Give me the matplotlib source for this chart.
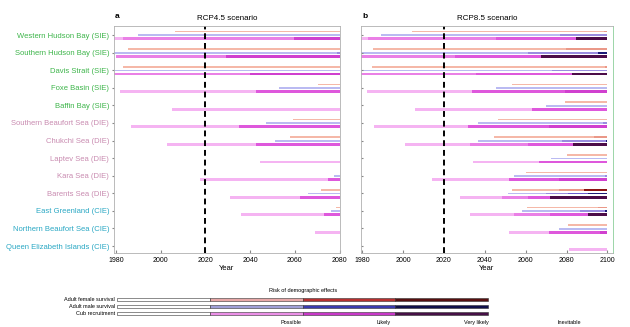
import matplotlib
matplotlib.use('Agg')
from matplotlib import pyplot as plt

plt.rcParams['font.family'] = ['Liberation Sans', 'DejaVu Sans']

regions = ['Western Hudson Bay (SIE)', 'Southern Hudson Bay (SIE)', 'Davis Strait (SIE)',
           'Foxe Basin (SIE)', 'Baffin Bay (SIE)', 'Southern Beaufort Sea (DIE)',
           'Chukchi Sea (DIE)', 'Laptev Sea (DIE)', 'Kara Sea (DIE)', 'Barents Sea (DIE)',
           'East Greenland (CIE)', 'Northern Beaufort Sea (CIE)', 'Queen Elizabeth Islands (CIE)']
eco_colors = {'SIE': '#3db54a', 'DIE': '#c98bb0', 'CIE': '#2aa8c4'}

# each bar: list of (year the level starts, level 0..4); bar runs to the end of the scenario
rcp45_female = [[(2006.3, 0)], [(1985.5, 0)], [(1983.3, 0)], [(2070.3, 0)], [],
                [(2059.1, 0)], [(2057.9, 0)], [], [], [(2071.9, 0)], [(2078.5, 0)], [], []]
rcp45_male = [[(1989.7, 0)], [(1979.1, 0), (2079, 1)], [(1979.1, 0)], [(2052.9, 0)], [],
              [(2047.2, 0)], [(2050.9, 0)], [], [(2077.7, 0)], [(2065.8, 0)], [(2076.2, 0)], [], []]
rcp45_cub = [[(1979.1, 0), (1983, 1), (2059.4, 3)], [(1980, 1), (2029.4, 3)],
             [(1979.1, 1), (2040, 3)], [(1981.8, 0), (2042.5, 2)], [(2005.1, 0)],
             [(1986.5, 0), (2035, 2)], [(2002.9, 0), (2042.5, 2)], [(2044.5, 0)],
             [(2017.5, 0), (2074.7, 2)], [(2030.9, 0), (2062.1, 2)], [(2036, 0), (2072.9, 2)],
             [(2069.1, 0)], []]

rcp85_female = [[(2004.5, 0), (2098.5, 1)], [(1985.4, 0), (2079.8, 1)], [(1984.9, 0), (2099, 1)],
                [(2053.1, 0)], [(2079.3, 0)], [(2046.6, 0)], [(2044.7, 0), (2093.6, 1)],
                [(2080.4, 0)], [(2060, 0)], [(2053.1, 0), (2076.3, 1), (2088.7, 4)],
                [(2060.5, 0), (2095.3, 1)], [(2080.9, 0)], []]
rcp85_male = [[(1989, 0), (2076.8, 1)], [(1979.4, 0), (2061, 1), (2095.6, 4)],
              [(1979.4, 0), (2072.7, 1)], [(2045.3, 0)], [(2069.8, 0)], [(2036.8, 0), (2098, 1)],
              [(2036.5, 0), (2077.6, 1), (2099.2, 4)], [(2072.4, 0)], [(2054.4, 0), (2098.9, 1)],
              [(2051.2, 0), (2069.8, 1), (2080.9, 2), (2090.7, 4)],
              [(2058, 0), (2086.6, 1), (2099, 4)], [(2076.3, 0)], []]
rcp85_cub = [[(1979.4, 0), (1982.9, 1), (2045.5, 2), (2084.5, 4)],
             [(1979.4, 1), (2025.4, 2), (2067.3, 4)], [(1979.4, 1), (2035.5, 2), (2082.5, 4)],
             [(1982.1, 0), (2033.6, 2), (2079.3, 3)], [(2005.8, 0), (2062.9, 2)],
             [(1985.9, 0), (2031.9, 2), (2071.6, 3)],
             [(2000.9, 0), (2032.7, 1), (2061, 2), (2083.3, 4)], [(2034.4, 0), (2066.7, 2)],
             [(2014.3, 0), (2051.8, 2), (2076.3, 3)],
             [(2027.8, 0), (2048.6, 1), (2061.3, 2), (2071.9, 4)],
             [(2032.7, 0), (2054.4, 1), (2071.9, 2), (2090.4, 4)],
             [(2051.8, 0), (2071.6, 2), (2096.4, 3)], [(2081.4, 0)]]

female_cols = ['#f5b8a8', '#ea9888', '#d86a5c', '#b43a32', '#8c1414']
male_cols = ['#babaf2', '#9a8ce0', '#6a5cd0', '#4a3cb4', '#1c1c78']
cub_cols = ['#f5b4f2', '#ea80e6', '#de58dc', '#d040cf', '#4c0c48']

legend_rows = ['Adult female survival', 'Adult male survival', 'Cub recruitment']
legend_female = ['white', '#e8a8a8', '#b83030', '#581010']
legend_male = ['white', '#a0a0d8', '#3a3ab0', '#10104a']
legend_cub = ['white', '#ec90e8', '#c838c8', '#461046']
risk_labels = ['Possible', 'Likely', 'Very likely', 'Inevitable']

W, H = 630, 327
fig = plt.figure(figsize=(6.3, 3.27), dpi=100)


def px_axes(x0, y0, x1, y1):
    return fig.add_axes([x0 / W, 1 - y1 / H, (x1 - x0) / W, (y1 - y0) / H])


def draw_bars(ax, bars, cols, offset, height, end):
    for i, segs in enumerate(bars):
        for k, (start, lev) in enumerate(segs):
            stop = segs[k + 1][0] if k + 1 < len(segs) else end
            ax.barh(i + offset, stop - start, left=start, height=height,
                    color=cols[lev], linewidth=0)


def panel(ax, fem, mal, cub, end, xlim, title, letter):
    draw_bars(ax, fem, female_cols, -0.19, 0.09, end)
    draw_bars(ax, mal, male_cols, 0.02, 0.1, end)
    draw_bars(ax, cub, cub_cols, 0.22, 0.16, end)
    ax.axvline(2020, color='black', lw=1.4, ls=(0, (3, 2)))
    ax.set_xlim(*xlim)
    ax.set_ylim(12.38, -0.53)
    ax.set_xticks(range(1980, end + 1, 20))
    ax.tick_params(axis='x', direction='in', length=2, labelsize=5, pad=3, color='#888888')
    ax.set_yticks(range(len(regions)))
    ax.set_xlabel('Year', fontsize=5.5, labelpad=1)
    for s in ax.spines.values():
        s.set_color('#b0b0b0')
        s.set_linewidth(0.6)
    ax.set_title(title, fontsize=5.8, pad=4)
    ax.text(0.005, 1.025, letter, transform=ax.transAxes, fontsize=6, fontweight='bold',
            ha='left', va='bottom')


ax1 = px_axes(114, 25.7, 340, 252.7)
panel(ax1, rcp45_female, rcp45_male, rcp45_cub, 2080, (1979.1, 2080.2), 'RCP4.5 scenario', 'a')
ax1.set_yticklabels(regions, fontsize=5.5)
for lbl in ax1.get_yticklabels():
    lbl.set_color(eco_colors[lbl.get_text()[-4:-1]])
ax1.tick_params(axis='y', direction='out', length=1.5, pad=2, color='#888888')

ax2 = px_axes(361, 25.7, 612.7, 252.7)
panel(ax2, rcp85_female, rcp85_male, rcp85_cub, 2100, (1979.4, 2102.6), 'RCP8.5 scenario', 'b')
ax2.set_yticklabels([])
ax2.tick_params(axis='y', direction='in', length=1.5, color='#888888')
ax2.spines['right'].set_color('#8ccf9a')

# risk legend
axl = px_axes(117, 295, 581, 317.7)
for r, cols in enumerate([legend_female, legend_male, legend_cub]):
    for k, c in enumerate(cols):
        axl.barh(r, 1, left=k, height=0.43, color=c, edgecolor='#333333', linewidth=0.4)
axl.set_xlim(0, 5)
axl.set_ylim(2.6, -0.6)
axl.set_yticks(range(3))
axl.set_yticklabels(legend_rows, fontsize=4)
axl.set_xticks([1.87, 2.87, 3.87, 4.87])
axl.set_xticklabels(risk_labels, fontsize=4)
axl.tick_params(length=0, pad=1.5)
for s in axl.spines.values():
    s.set_visible(False)
axl.text(2.0, -1.2, 'Risk of demographic effects', fontsize=4, ha='center', va='center')

fig.savefig('out.png', dpi=100)
